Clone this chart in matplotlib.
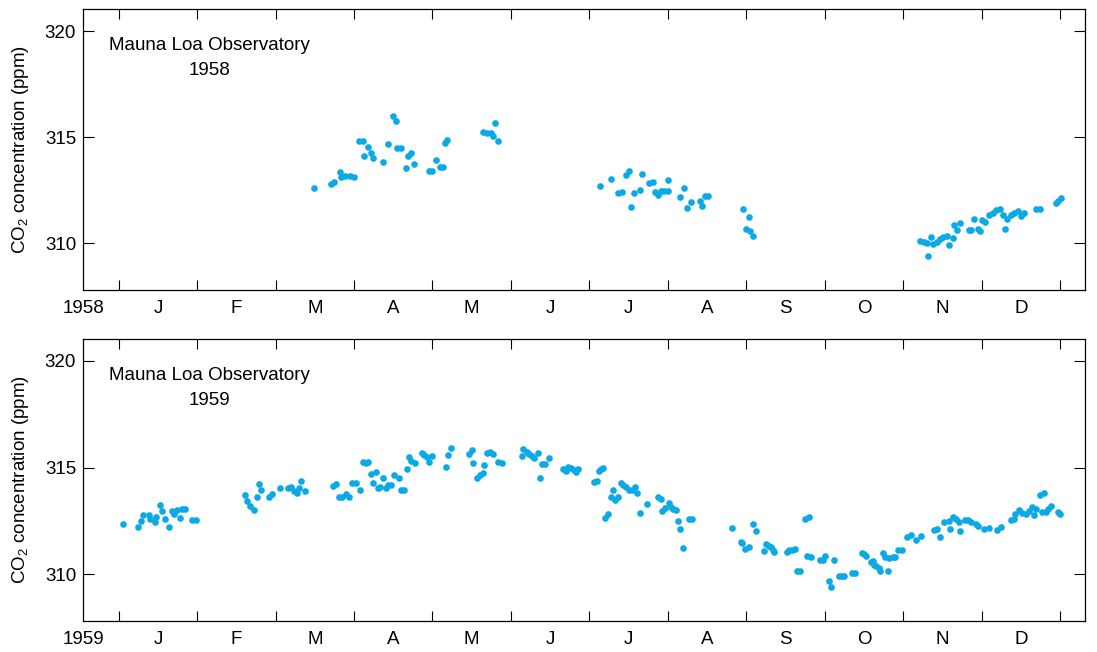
import matplotlib
matplotlib.use('Agg')
import matplotlib.pyplot as plt

plt.rcParams['font.family'] = ['Liberation Sans', 'DejaVu Sans']
plt.rcParams['mathtext.fontset'] = 'custom'
plt.rcParams['mathtext.rm'] = 'Liberation Sans'
plt.rcParams['mathtext.it'] = 'Liberation Sans'

# Datos: tiempo en meses desde el 1 de enero, CO2 en ppm
t_1958 = [2.49, 2.71, 2.75, 2.82, 2.84, 2.88, 2.95, 3.00, 3.06, 3.11, 3.13, 3.18, 3.21,
          3.24, 3.37, 3.43, 3.50, 3.53, 3.55, 3.60, 3.66, 3.69, 3.73, 3.76, 3.95, 4.00,
          4.05, 4.09, 4.14, 4.16, 4.19, 4.64, 4.69, 4.74, 4.77, 4.80, 4.84,
          6.14, 6.27, 6.37, 6.41, 6.47, 6.50, 6.53, 6.57, 6.65, 6.67, 6.76, 6.81, 6.84,
          6.87, 6.91, 6.95, 7.00, 7.00, 7.15, 7.21, 7.25, 7.29, 7.41, 7.44, 7.47, 7.51,
          7.96, 8.03, 8.00, 8.05, 8.08,
          10.21, 10.26, 10.30, 10.32, 10.35, 10.38, 10.43, 10.47, 10.51, 10.56, 10.59,
          10.63, 10.65, 10.69, 10.73, 10.84, 10.87, 10.90, 10.95, 10.98, 11.01, 11.04,
          11.10, 11.14, 11.18, 11.23, 11.27, 11.30, 11.33, 11.37, 11.41, 11.46, 11.50,
          11.54, 11.69, 11.74, 11.95, 11.98, 12.01]
co2_1958 = [312.63, 312.82, 312.89, 313.34, 313.13, 313.17, 313.17, 313.15, 314.80, 314.84, 314.12, 314.53, 314.28,
            314.00, 313.85, 314.68, 315.99, 315.75, 314.51, 314.51, 313.55, 314.10, 314.28, 313.74, 313.40, 313.43,
            313.92, 313.60, 313.62, 314.73, 314.89, 315.25, 315.20, 315.22, 315.08, 315.65, 314.84,
            312.70, 313.05, 312.39, 312.42, 313.21, 313.43, 311.70, 312.37, 312.51, 313.25, 312.86, 312.91, 312.42,
            312.28, 312.49, 312.49, 312.49, 313.00, 312.20, 312.59, 311.68, 311.93, 312.01, 311.75, 312.22, 312.22,
            311.64, 311.24, 310.66, 310.58, 310.34,
            310.11, 310.06, 310.01, 309.42, 310.32, 309.99, 310.08, 310.22, 310.30, 310.33, 309.91,
            310.25, 310.88, 310.65, 310.96, 310.65, 310.65, 311.13, 310.67, 310.60, 311.12, 311.02,
            311.35, 311.45, 311.56, 311.60, 311.32, 310.69, 311.13, 311.35, 311.43, 311.51, 311.31,
            311.45, 311.62, 311.62, 311.90, 312.00, 312.14]

t_1959 = [0.05, 0.25, 0.28, 0.31, 0.39, 0.40, 0.46, 0.48, 0.52, 0.55, 0.59, 0.64, 0.68, 0.71, 0.74, 0.78, 0.81, 0.85, 0.94, 0.98,
          1.61, 1.64, 1.67, 1.72, 1.76, 1.79, 1.82, 1.92, 1.96, 2.06, 2.16, 2.20, 2.23, 2.27, 2.30, 2.33, 2.37,
          2.73, 2.77, 2.81, 2.85, 2.90, 2.93, 2.98, 3.02, 3.07, 3.11, 3.15, 3.18, 3.21, 3.28, 3.24,
          3.31, 3.33, 3.37, 3.41, 3.43, 3.47, 3.51, 3.57, 3.60, 3.64, 3.67, 3.70, 3.73, 3.78,
          3.86, 3.89, 3.93, 3.96, 3.99, 4.17, 4.20, 4.23, 4.46, 4.50, 4.52, 4.57, 4.60, 4.64,
          4.66, 4.70, 4.73, 4.77, 4.84, 4.88,
          5.14, 5.16, 5.20, 5.23, 5.27, 5.30, 5.34, 5.37, 5.40, 5.43, 5.49,
          5.67, 5.70, 5.73, 5.77, 5.80, 5.83, 5.86,
          6.06, 6.10, 6.12, 6.15, 6.18,
          6.20, 6.24, 6.27, 6.30, 6.33, 6.37,
          6.40, 6.43, 6.47, 6.50, 6.54, 6.58, 6.61, 6.64, 6.74,
          6.88, 6.91, 6.93, 6.97, 7.01, 7.04, 7.07, 7.10, 7.13, 7.16, 7.20, 7.27, 7.31,
          7.82, 7.93, 7.95, 7.99, 8.03, 8.09, 8.12,
          8.23, 8.25, 8.29, 8.31, 8.34, 8.36,
          8.52, 8.55, 8.58, 8.62, 8.65, 8.69,
          8.75, 8.80, 8.78, 8.82,
          8.94, 8.98, 9.01, 9.05, 9.08, 9.12, 9.18, 9.22, 9.25, 9.35, 9.39,
          9.47, 9.50, 9.53, 9.59, 9.61, 9.63, 9.66, 9.69, 9.71,
          9.74, 9.77, 9.81, 9.82, 9.87, 9.90, 9.94,
          9.99, 10.05, 10.10, 10.17, 10.23,
          10.40, 10.43, 10.47, 10.52, 10.58, 10.60, 10.64, 10.67, 10.71, 10.72,
          10.79, 10.83, 10.86, 10.93, 10.96, 11.03, 11.10, 11.20, 11.25,
          11.37, 11.41, 11.43, 11.48, 11.52, 11.57, 11.61, 11.64, 11.67, 11.70,
          11.74, 11.80, 11.77, 11.82, 11.85, 11.89, 11.97, 12.00]
co2_1959 = [312.34, 312.21, 312.48, 312.77, 312.77, 312.58, 312.44, 312.66, 313.24, 312.94, 312.58, 312.21, 312.94, 312.84, 312.99, 312.65, 313.04, 313.07, 312.52, 312.52,
            313.72, 313.43, 313.19, 312.99, 313.63, 314.21, 313.96, 313.63, 313.75, 314.05, 314.02, 314.10, 313.88, 313.80, 314.03, 314.35, 313.91,
            314.13, 314.21, 313.61, 313.61, 313.77, 313.61, 314.29, 314.27, 313.96, 315.27, 315.23, 315.28, 314.71, 314.78, 314.27,
            314.02, 314.11, 314.52, 314.05, 314.19, 314.16, 314.66, 314.49, 313.96, 313.96, 314.94, 315.48, 315.33, 315.20,
            315.67, 315.61, 315.51, 315.27, 315.53, 315.03, 315.61, 315.92, 315.65, 315.83, 315.22, 314.52, 314.67, 314.73,
            315.13, 315.67, 315.75, 315.62, 315.28, 315.22,
            315.53, 315.87, 315.75, 315.64, 315.53, 315.43, 315.69, 314.49, 315.15, 315.17, 315.45,
            314.91, 314.85, 315.05, 314.97, 314.89, 314.80, 314.91,
            314.33, 314.39, 314.85, 314.92, 314.97,
            312.62, 312.82, 313.60, 313.96, 313.49, 313.61,
            314.27, 314.17, 314.10, 313.97, 313.97, 314.07, 313.79, 312.88, 313.30,
            313.60, 313.52, 312.96, 313.08, 313.36, 313.16, 313.07, 313.00, 312.48, 312.12, 311.21, 312.57, 312.58,
            312.15, 311.53, 311.46, 311.18, 311.25, 312.37, 312.02,
            311.09, 311.43, 311.34, 311.25, 311.15, 311.06,
            311.06, 311.12, 311.15, 311.18, 310.13, 310.13,
            312.60, 312.70, 310.87, 310.79,
            310.64, 310.64, 310.87, 309.66, 309.41, 310.64, 309.89, 309.89, 309.89, 310.05, 310.05,
            311.01, 310.95, 310.87, 310.55, 310.61, 310.42, 310.37, 310.29, 310.15,
            311.00, 310.81, 310.15, 310.78, 310.81, 310.81, 311.15,
            311.15, 311.74, 311.84, 311.60, 311.81,
            312.06, 312.14, 311.73, 312.43, 312.49, 312.14, 312.66, 312.58, 312.46, 312.01,
            312.56, 312.52, 312.46, 312.37, 312.24, 312.14, 312.16, 312.09, 312.20,
            312.54, 312.57, 312.84, 312.99, 312.88, 312.84, 312.94, 313.14, 312.79, 313.05,
            313.71, 313.80, 312.93, 312.93, 313.04, 313.21, 312.91, 312.80]

meses = ['J', 'F', 'M', 'A', 'M', 'J', 'J', 'A', 'S', 'O', 'N', 'D']
y_ticks = [310, 315, 320]
color_puntos = '#0BAAE6'
fs = 13.5


def dibujar_panel(ax, t, co2, anio):
    ax.plot(t, co2, 'o', color=color_puntos, ms=4.8, mew=0)
    ax.set_xlim(-0.455, 12.318)
    ax.set_ylim(307.8, 321.03)

    # ticks en los limites de cada mes, etiquetas en el centro
    ax.set_xticks(range(13))
    ax.set_xticklabels([])
    ax.set_xticks([i + 0.5 for i in range(12)], minor=True)
    ax.set_xticklabels(meses, minor=True)
    ax.tick_params(axis='x', which='major', direction='in', length=7.5, width=0.8,
                   top=True, bottom=True)
    ax.tick_params(axis='x', which='minor', length=0, pad=7, labelsize=fs)
    ax.set_yticks(y_ticks)
    ax.tick_params(axis='y', direction='in', length=8, width=0.8, left=True,
                   right=True, labelsize=fs, pad=5)
    for s in ax.spines.values():
        s.set_linewidth(0.9)

    ax.set_ylabel('CO$_2$ concentration (ppm)', fontsize=fs, labelpad=10)

    # año debajo del eje izquierdo, a la altura de los meses
    ax.text(0.0, -0.036, str(anio), transform=ax.transAxes, ha='center', va='top', fontsize=fs)

    ax.text(0.026, 0.872, 'Mauna Loa Observatory', transform=ax.transAxes,
            ha='left', va='center', fontsize=fs)
    ax.text(0.126, 0.783, str(anio), transform=ax.transAxes,
            ha='center', va='center', fontsize=fs)


fig = plt.figure(figsize=(10.97, 6.52), dpi=100)
ax1 = fig.add_axes([0.0757, 0.555, 0.9133, 0.431])
ax2 = fig.add_axes([0.0757, 0.0475, 0.9133, 0.4325])

dibujar_panel(ax1, t_1958, co2_1958, 1958)
dibujar_panel(ax2, t_1959, co2_1959, 1959)

fig.savefig('out.png', dpi=100)
